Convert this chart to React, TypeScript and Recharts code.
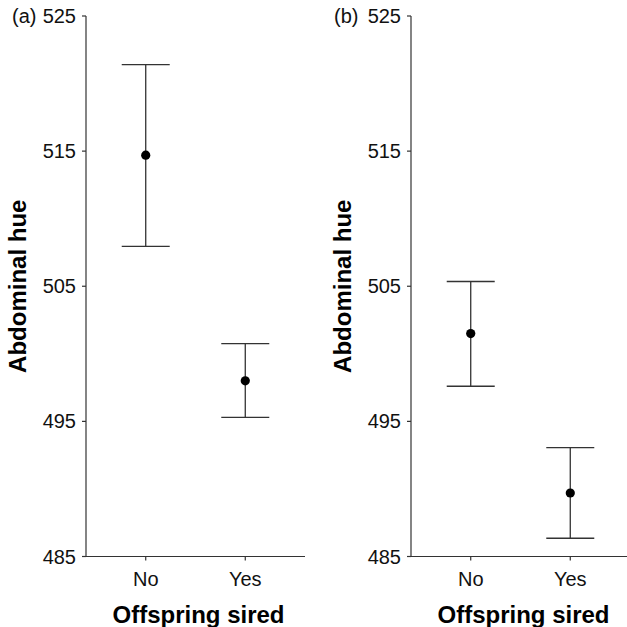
import { ScatterChart, Scatter, XAxis, YAxis, ErrorBar, Label } from 'recharts'

const categories = ['No', 'Yes']
const yTicks = [485, 495, 505, 515, 525]

// panel (a)
const meanA = [514.7, 498.0]
const lowerA = [507.95, 495.3]
const upperA = [521.4, 500.75]

// panel (b)
const meanB = [501.5, 489.7]
const lowerB = [497.6, 486.35]
const upperB = [505.35, 493.05]

const FONT = '"Liberation Sans", Arial, sans-serif'
const AXIS = '#333'

function buildRows(mean: number[], lower: number[], upper: number[]) {
    return categories.map((c, i) => ({
        x: i + 1,
        name: c,
        y: mean[i],
        err: [mean[i] - lower[i], upper[i] - mean[i]],
    }))
}

const Dot = (props: any) => <circle cx={props.cx} cy={props.cy} r={4.6} fill="#000" />

interface PanelProps {
    tag: string
    tagOffset: number
    rows: ReturnType<typeof buildRows>
    width: number
    left: number
    right: number
}

function Panel({ tag, tagOffset, rows, width, left, right }: PanelProps) {
    return (
        <ScatterChart width={width} height={627} margin={{ top: 16, right, bottom: 20.5, left }}>
            <XAxis
                type="number"
                dataKey="x"
                domain={[0.4, 2.6]}
                ticks={[1, 2]}
                tickFormatter={(v: number) => categories[v - 1]}
                height={50}
                stroke={AXIS}
                strokeWidth={1.2}
                tickSize={4}
                tickMargin={11}
                tick={{ fill: '#111', fontSize: 20, fontFamily: FONT }}
            >
                <Label
                    content={({ viewBox }: any) => (
                        <text
                            x={viewBox.x + viewBox.width / 2 + 3}
                            y={viewBox.y + 66}
                            textAnchor="middle"
                            fontSize={24}
                            fontWeight="bold"
                            fontFamily={FONT}
                            fill="#000"
                        >
                            Offspring sired
                        </text>
                    )}
                />
            </XAxis>
            <YAxis
                type="number"
                dataKey="y"
                domain={[485, 525]}
                ticks={yTicks}
                width={60}
                stroke={AXIS}
                strokeWidth={1.2}
                tickSize={4}
                tickMargin={6}
                tick={{ fill: '#111', fontSize: 20, fontFamily: FONT }}
            >
                <Label
                    content={({ viewBox }: any) => {
                        const ax = viewBox.x + viewBox.width
                        const cy = viewBox.y + viewBox.height / 2
                        const lx = ax - 60.5
                        return (
                            <g>
                                <text
                                    x={lx}
                                    y={cy}
                                    transform={`rotate(-90 ${lx} ${cy})`}
                                    textAnchor="middle"
                                    fontSize={24}
                                    fontWeight="bold"
                                    fontFamily={FONT}
                                    fill="#000"
                                >
                                    Abdominal hue
                                </text>
                                <text x={ax - tagOffset} y={23} fontSize={20} fontFamily={FONT} fill="#111">
                                    {tag}
                                </text>
                            </g>
                        )
                    }}
                />
            </YAxis>
            <Scatter data={rows} shape={Dot} isAnimationActive={false}>
                <ErrorBar dataKey="err" direction="y" width={24} stroke={AXIS} strokeWidth={1.3} />
            </Scatter>
        </ScatterChart>
    )
}

export default function App() {
    return (
        <div
            style={{
                position: 'absolute',
                left: 0,
                top: 0,
                width: 627,
                height: 627,
                overflow: 'hidden',
                background: '#fff',
            }}
        >
            <div style={{ position: 'absolute', left: 0, top: 0 }}>
                <Panel tag="(a)" tagOffset={74} rows={buildRows(meanA, lowerA, upperA)} width={313} left={26} right={8} />
            </div>
            <div style={{ position: 'absolute', left: 313, top: 0 }}>
                <Panel tag="(b)" tagOffset={77} rows={buildRows(meanB, lowerB, upperB)} width={317} left={38} right={0} />
            </div>
        </div>
    )
}
